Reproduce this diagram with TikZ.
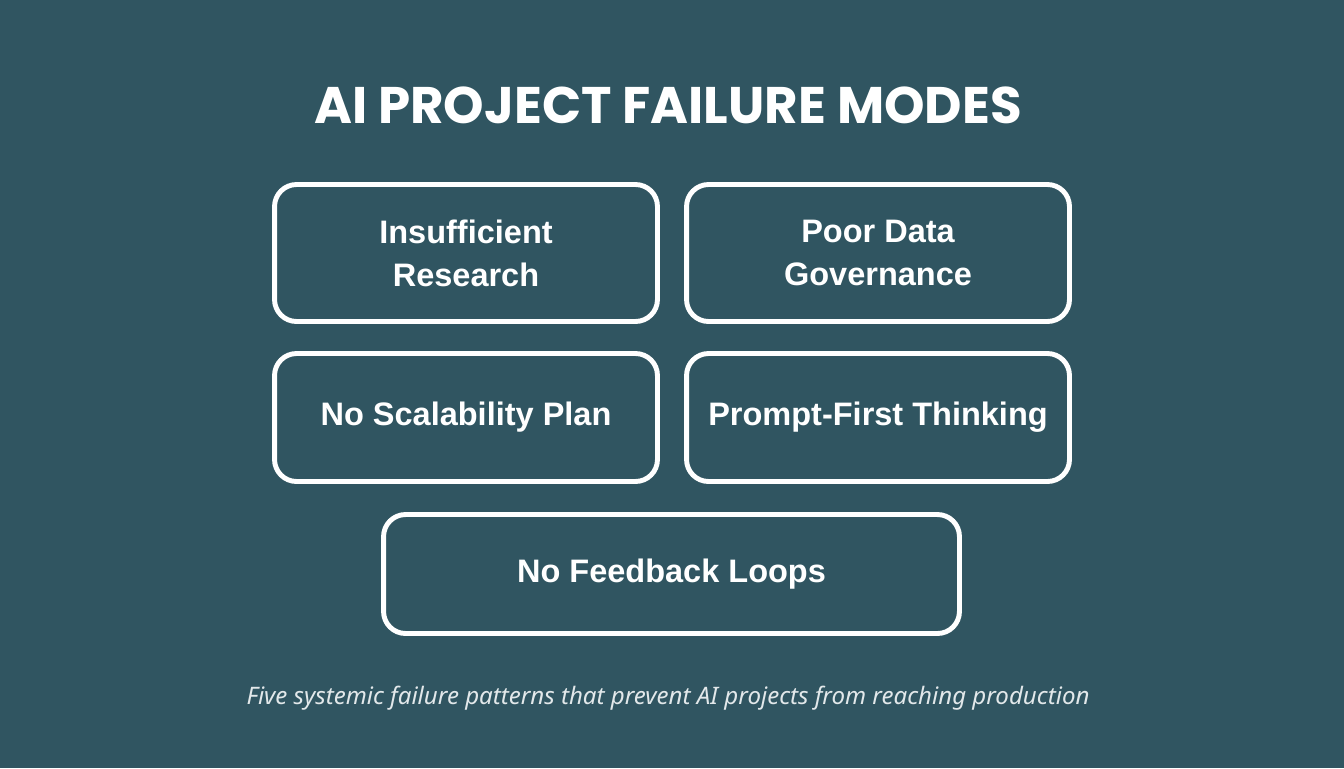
\documentclass[tikz,border=0pt]{standalone}
\usepackage{fontspec}
\setmainfont{Liberation Sans}
\newfontfamily\titlefont{Poppins}
\newfontfamily\capfont{Noto Sans}
\definecolor{slate}{RGB}{48,85,97}
\definecolor{paleink}{RGB}{226,232,234}
\begin{document}
\begin{tikzpicture}[x=0.02cm,y=-0.02cm,
    modebox/.style={draw=white, line width=2.8pt, rounded corners=0.44cm,
      text=white, align=center, font=\bfseries\fontsize{18.5}{24.5}\selectfont}]
  \fill[slate] (0,0) rectangle (1344,768);
  \useasboundingbox (0,0) rectangle (1344,768);
  \node[text=white, font=\titlefont\bfseries\fontsize{29.3}{34}\selectfont] (title) at (668,105) {AI PROJECT FAILURE MODES};
  % upper two rows
  \node[modebox, minimum width=7.66cm, minimum height=2.74cm] (research) at (466,253) {Insufficient\\Research};
  \node[modebox, minimum width=7.66cm, minimum height=2.74cm] (data) at (878,253) {Poor Data\\Governance};
  \node[modebox, minimum width=7.66cm, minimum height=2.56cm] (scale) at (466,417.5) {No Scalability Plan};
  \node[modebox, minimum width=7.66cm, minimum height=2.56cm] (prompt) at (878,417.5) {Prompt-First Thinking};
  % bottom box
  \node[modebox, minimum width=11.52cm, minimum height=2.38cm] (loops) at (671.5,574) {No Feedback Loops};
  \node[text=paleink, font=\capfont\itshape\fontsize{13.7}{16}\selectfont] (caption) at (668,698) {Five systemic failure patterns that prevent AI projects from reaching production};
\end{tikzpicture}
\end{document}
